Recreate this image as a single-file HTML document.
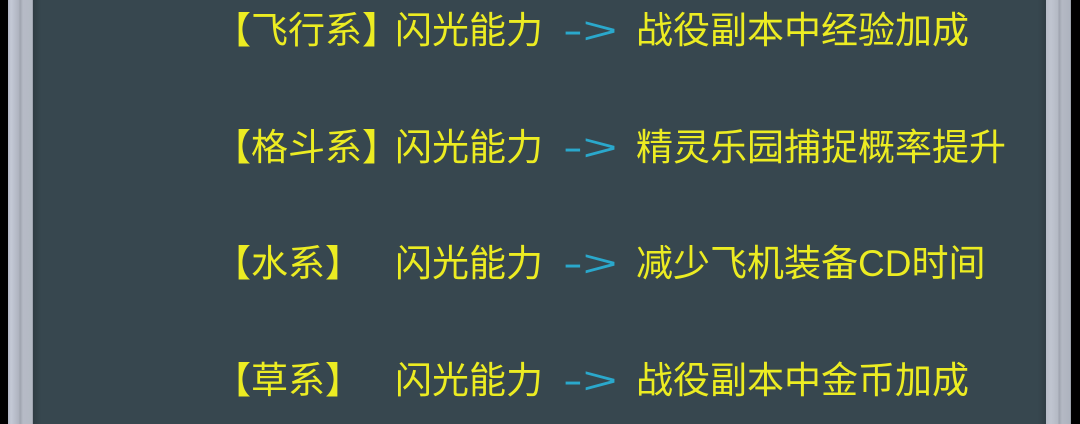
<!DOCTYPE html>
<html><head><meta charset="utf-8"><style>
html,body{margin:0;padding:0;}
body{width:1080px;height:424px;position:relative;overflow:hidden;background:#37474f;font-family:"Liberation Sans","Noto Sans CJK SC",sans-serif;}
.b{position:absolute;top:0;height:424px;}
.t{position:absolute;font-size:37px;line-height:40px;color:#ecec22;white-space:nowrap;}
.a{color:#2aa8cc;transform:scaleX(1.6);transform-origin:left center;}
</style></head><body>
<div class="b" style="left:0;width:8px;background:#000"></div>
<div class="b" style="left:8px;width:25px;background:linear-gradient(90deg,#b0b6c4 0,#c4c9d6 3px,#aeb3bf 11px,#9ea3ae 12px,#b6bbc6 15px,#b4b9c4 24px,#8a909a 25px)"></div>
<div class="b" style="left:33px;width:8px;background:linear-gradient(90deg,#2f3c43,#37474f)"></div>
<div class="b" style="left:1038px;width:8px;background:linear-gradient(90deg,#37474f,#2f3c43)"></div>
<div class="b" style="left:1046px;width:25px;background:linear-gradient(90deg,#b6bbc6 0,#c0c5d0 5px,#b4b9c4 12px,#9ea3ae 13px,#b4b9c4 16px,#aeb3bf 24px,#8a909a 25px)"></div>
<div class="b" style="left:1071px;width:9px;background:#000"></div>

<div class="t" style="left:214px;top:11px">【飞行系】</div>
<div class="t" style="left:395px;top:11px">闪光能力</div>
<div class="t a" style="left:563px;top:11px">-&gt;</div>
<div class="t" style="left:636px;top:11px">战役副本中经验加成</div>

<div class="t" style="left:214px;top:128px">【格斗系】</div>
<div class="t" style="left:395px;top:128px">闪光能力</div>
<div class="t a" style="left:563px;top:128px">-&gt;</div>
<div class="t" style="left:636px;top:128px">精灵乐园捕捉概率提升</div>

<div class="t" style="left:214px;top:244px">【水系】</div>
<div class="t" style="left:395px;top:244px">闪光能力</div>
<div class="t a" style="left:563px;top:244px">-&gt;</div>
<div class="t" style="left:636px;top:244px">减少飞机装备CD时间</div>

<div class="t" style="left:214px;top:361px">【草系】</div>
<div class="t" style="left:395px;top:361px">闪光能力</div>
<div class="t a" style="left:563px;top:361px">-&gt;</div>
<div class="t" style="left:636px;top:361px">战役副本中金币加成</div>
</body></html>
